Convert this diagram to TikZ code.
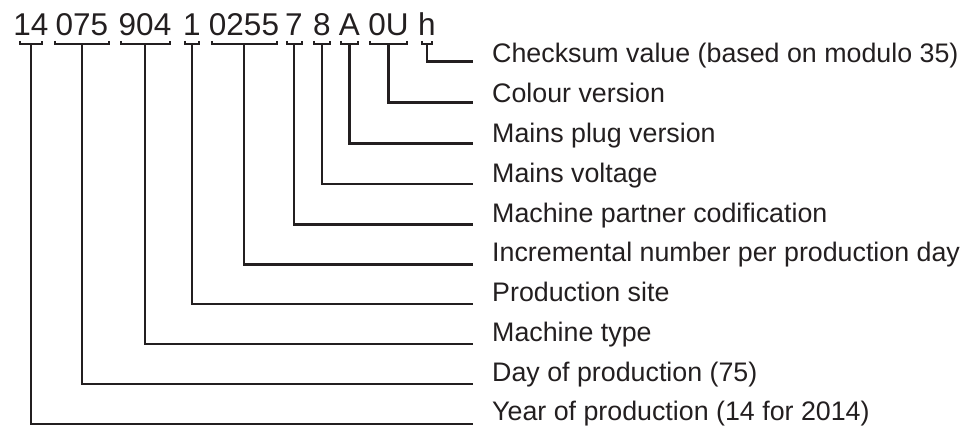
\documentclass[tikz,border=0pt]{standalone}
\usepackage{fontspec}
\setmainfont{Liberation Sans}
\definecolor{ink}{HTML}{231F20}
\begin{document}
\begin{tikzpicture}[x=1pt,y=-1pt,
  code/.style={anchor=base, inner sep=0pt, font=\fontsize{31.5}{36}\selectfont, text=ink},
  lab/.style={anchor=base west, inner sep=0pt, font=\fontsize{26.8}{32}\selectfont, text=ink},
  brk/.style={draw=ink, line width=2pt},
  conn/.style={draw=ink, line width=2.8pt}]
\useasboundingbox (0,0) rectangle (967,427);
\foreach \n/\t/\cx/\hw/\ly/\by/\lab in {
  1/14/31/11/424/421/Year of production (14 for 2014),
  2/075/82/27/384/381.2/Day of production (75),
  3/904/145/24.5/344/341.4/Machine type,
  4/1/192/7/304/301.7/Production site,
  5/0255/244/32.5/264.5/261.9/Incremental number per production day,
  6/7/294/7.5/224.5/222.1/Machine partner codification,
  7/8/322/8/184/182.3/Mains voltage,
  8/A/349.5/8.5/143.5/142.5/Mains plug version,
  9/0U/388.5/18.5/102.5/102.8/Colour version,
  10/h/427/5/61.5/63/Checksum value (based on modulo 35)}{
  \node[code] (g\n) at (\cx,36) {\t};
  \coordinate (s\n) at (\cx,44.5);
  \draw[brk] (\cx-\hw,41) -- (\cx-\hw,44.5) -- (\cx+\hw,44.5) -- (\cx+\hw,41);
  \node[lab] (l\n) at (492,\by) {\lab};
  \coordinate (e\n) at (473,\ly);
  \draw[conn] (s\n) |- (e\n);
}
\end{tikzpicture}
\end{document}
